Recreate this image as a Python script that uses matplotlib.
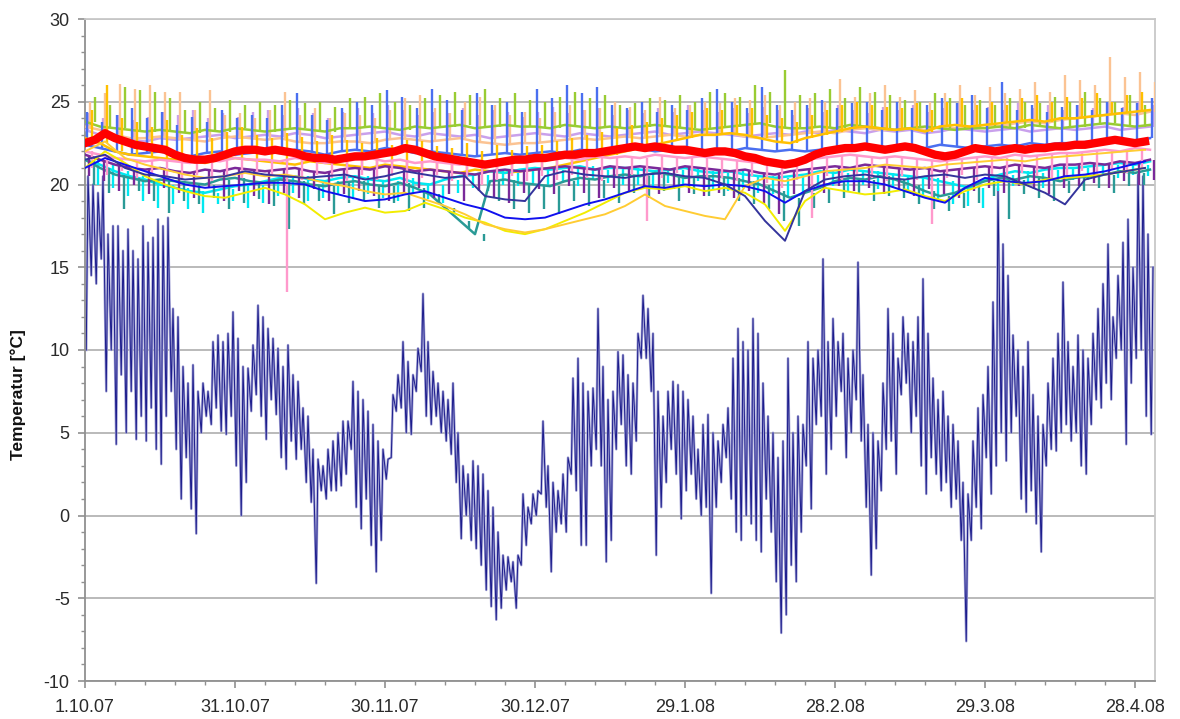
import numpy as np
import matplotlib
matplotlib.use("Agg")
import matplotlib.pyplot as plt
from matplotlib.ticker import MultipleLocator

plt.rcParams['font.family'] = ['Liberation Sans', 'DejaVu Sans']
plt.rcParams['axes.unicode_minus'] = False

# ------------------------------------------------------------------------------
# Data (days counted from 1.10.07)
# ------------------------------------------------------------------------------
tick_days = [0, 30, 60, 90, 120, 150, 180, 210]
tick_labels = ['1.10.07', '31.10.07', '30.11.07', '30.12.07',
               '29.1.08', '28.2.08', '29.3.08', '28.4.08']

# outdoor temperature, daily max / min (one value per day)
out_max = [20.5, 20.0, 19.5, 20.5, 17.0, 17.5, 17.5, 16.0, 17.3, 16.0,
           15.5, 17.5, 16.5, 16.8, 17.9, 17.5, 18.0, 12.5, 12.0, 9.0,
           8.0, 9.1, 7.5, 8.0, 7.5, 10.5, 10.9, 10.5, 11.0, 12.3,
           10.7, 9.0, 8.9, 10.3, 12.7, 12.0, 11.3, 10.7, 10.1, 9.0,
           10.3, 8.5, 8.1, 6.5, 6.0, 4.0, 3.4, 3.0, 4.0, 4.5,
           5.0, 5.7, 5.7, 8.1, 7.5, 7.0, 6.3, 5.5, 4.5, 4.0,
           3.4, 7.3, 8.5, 10.5, 9.3, 8.5, 10.1, 13.4, 10.5, 8.7,
           8.0, 7.5, 7.0, 8.0, 5.0, 3.0, 2.5, 3.3, 3.0, 2.5,
           1.5, 0.5, -1.0, -2.4, -2.5, -2.8, -2.4, 1.3, 0.5, 1.3,
           1.5, 5.7, 3.0, 2.0, 1.5, 2.5, 3.5, 8.3, 9.5, 8.0,
           7.5, 7.7, 12.5, 9.0, 7.0, 7.5, 9.9, 9.7, 8.5, 8.0,
           11.0, 13.3, 12.5, 11.0, 7.5, 6.0, 7.5, 8.1, 7.9, 7.5,
           7.0, 6.0, 4.0, 5.5, 6.1, 5.0, 4.5, 5.5, 6.5, 9.5,
           11.3, 10.5, 10.0, 11.9, 11.0, 8.0, 6.0, 5.0, 3.5, 4.5,
           9.5, 5.0, 6.0, 5.5, 10.5, 9.5, 10.0, 15.5, 10.5, 11.9,
           10.5, 11.0, 9.5, 10.0, 15.3, 8.5, 5.5, 5.0, 4.5, 8.0,
           12.5, 11.0, 9.5, 12.0, 11.0, 10.5, 12.0, 14.3, 11.0, 8.3,
           7.0, 7.5, 6.0, 5.5, 4.5, 2.0, 1.3, 4.5, 6.5, 7.3,
           9.0, 12.9, 19.8, 16.4, 14.5, 10.9, 10.0, 9.0, 10.5, 7.3,
           6.0, 5.5, 8.0, 9.5, 11.0, 14.1, 10.5, 9.0, 10.9, 10.0,
           9.5, 11.0, 12.5, 14.0, 16.4, 12.0, 14.5, 16.5, 17.9, 15.0,
           20.6, 20.5, 17.0, 15.0]
out_min = [10.0, 14.5, 14.0, 15.5, 7.5, 10.0, 4.3, 8.5, 5.0, 7.5,
           4.6, 6.0, 4.5, 6.5, 4.0, 3.1, 6.0, 7.5, 4.0, 1.0,
           3.5, 0.4, -1.1, 5.0, 6.0, 5.5, 6.5, 5.1, 4.9, 6.0,
           3.0, 0.0, 2.0, 6.3, 7.3, 6.0, 4.6, 7.0, 6.1, 3.5,
           2.8, 4.5, 3.4, 4.0, 2.0, 0.8, -4.1, 1.5, 1.0, 1.5,
           1.5, 1.8, 2.5, 4.0, 0.5, -0.8, 1.0, -1.8, -3.4, -1.5,
           2.2, 3.5, 6.3, 6.5, 5.0, 4.9, 7.5, 8.7, 6.0, 5.5,
           6.0, 5.0, 4.5, 3.7, 2.0, -1.4, 0.0, -1.5, -2.0, -3.0,
           -4.5, -5.5, -6.3, -5.6, -4.5, -4.0, -5.6, -3.0, -1.8, -0.5,
           0.0, 1.3, 0.5, -3.4, -1.0, -0.5, -1.0, 2.5, 1.5, -1.8,
           -1.8, 3.0, 4.0, 3.0, -2.8, -1.5, 4.0, 5.5, 3.0, 2.5,
           4.5, 9.5, 9.5, 7.5, -2.4, 0.5, 2.0, 4.0, 2.5, -0.2,
           1.5, 2.5, 1.0, 0.0, 0.5, -4.7, 0.5, 2.0, 3.5, 1.0,
           -1.0, -1.5, 0.0, -0.5, -1.5, -2.2, 1.0, -1.0, -4.0, -7.1,
           -6.0, -3.0, -4.0, -1.0, 3.0, 0.4, 5.5, 6.0, 2.5, 4.0,
           6.0, 7.5, 3.5, 5.0, 7.0, 4.5, 0.5, -3.6, -2.0, 1.5,
           4.0, 4.5, 2.5, 7.3, 8.0, 5.0, 6.0, 3.0, 1.3, 3.5,
           2.5, 1.5, 2.0, 0.5, 1.0, -1.5, -7.6, -1.5, 0.5, -0.8,
           3.5, 1.3, 3.0, 5.0, 3.3, 5.0, 6.0, 1.0, 0.2, 1.5,
           -0.5, -2.2, 3.0, 4.0, 3.9, 5.0, 5.5, 4.5, 5.0, 3.0,
           2.5, 5.5, 7.0, 6.5, 8.0, 7.0, 9.5, 10.0, 4.3, 8.0,
           9.5, 10.0, 6.0, 4.9]

# room sensors with short heating peaks / dips: base level and peak, every 3 days
peach_base = [23.5, 23.3, 23.0, 22.8, 22.8, 22.9, 22.8, 22.7, 22.6, 22.8, 22.9, 22.8,
              22.7, 22.8, 22.6, 22.5, 22.5, 22.6, 22.6, 22.5, 22.7, 22.8, 22.7, 22.6,
              22.7, 22.8, 22.6, 22.5, 22.4, 22.5, 22.5, 22.6, 22.7, 22.8, 22.7, 22.8,
              22.9, 22.8, 22.9, 23.0, 22.9, 23.0, 23.0, 23.1, 22.9, 22.8, 22.9, 23.0,
              23.1, 23.2, 23.1, 23.3, 23.4, 23.3, 23.3, 23.4, 23.3, 23.5, 23.4, 23.5,
              23.6, 23.5, 23.7, 23.8, 23.7, 23.9, 24.0, 24.1, 24.2, 24.3, 24.2, 24.4]
peach_peak = [25.0, 25.5, 26.1, 25.8, 26.0, 25.6, 25.6, 24.5, 25.7, 24.2, 24.3, 24.0,
              24.5, 25.6, 24.2, 24.6, 24.0, 24.3, 24.2, 24.0, 24.5, 25.2, 25.4, 24.6,
              24.3, 25.0, 25.3, 24.8, 24.2, 24.4, 24.0, 24.4, 24.8, 24.5, 24.6, 25.0,
              24.7, 24.5, 25.3, 24.6, 24.8, 25.0, 24.9, 25.2, 25.1, 25.4, 24.8, 25.0,
              25.2, 25.0, 26.4, 25.3, 25.5, 26.0, 25.3, 25.7, 25.0, 25.5, 26.0, 25.4,
              25.9, 25.5, 25.8, 26.2, 25.6, 26.6, 26.3, 26.0, 27.7, 26.5, 26.8, 26.2]

green_base = [23.8, 23.5, 23.4, 23.3, 23.2, 23.3, 23.2, 23.1, 23.3, 23.2, 23.4, 23.3,
              23.2, 23.3, 23.4, 23.3, 23.2, 23.4, 23.4, 23.5, 23.4, 23.3, 23.5, 23.4,
              23.5, 23.6, 23.4, 23.5, 23.6, 23.5, 23.5, 23.4, 23.6, 23.5, 23.4, 23.5,
              23.4, 23.5, 23.6, 23.5, 23.4, 23.3, 23.4, 23.5, 23.6, 23.7, 23.5, 23.4,
              23.4, 23.5, 23.4, 23.6, 23.5, 23.4, 23.3, 23.4, 23.5, 23.4, 23.3, 23.4,
              23.4, 23.5, 23.4, 23.6, 23.5, 23.4, 23.5, 23.6, 23.7, 23.6, 23.5, 23.6]
green_peak = [25.3, 24.8, 25.9, 25.7, 25.6, 25.2, 24.5, 25.0, 24.6, 25.1, 24.8, 25.0,
              24.8, 25.1, 24.9, 25.0, 24.7, 25.2, 25.3, 25.5, 25.0, 24.8, 25.2, 25.4,
              25.6, 25.4, 25.8, 25.2, 25.5, 25.1, 25.0, 25.3, 25.6, 25.2, 25.4, 24.8,
              24.9, 25.2, 25.1, 25.4, 25.0, 25.6, 25.5, 25.3, 26.0, 25.6, 26.9, 25.4,
              25.5, 25.8, 25.2, 25.9, 25.6, 25.4, 25.1, 25.0, 25.5, 25.2, 24.8, 25.1,
              24.8, 25.2, 25.0, 24.9, 25.3, 25.0, 25.6, 25.2, 25.0, 25.4, 24.8, 25.0]

royal_base = [22.4, 22.2, 22.0, 21.8, 21.9, 22.0, 21.8, 21.7, 21.9, 22.0, 21.8, 21.9,
              22.0, 21.9, 22.1, 22.0, 21.8, 22.0, 22.1, 22.0, 22.2, 22.1, 21.9, 22.0,
              21.9, 21.8, 21.7, 21.8, 21.9, 21.8, 21.9, 22.0, 21.9, 22.1, 22.0, 22.1,
              22.1, 22.2, 22.0, 22.1, 22.2, 22.0, 22.1, 22.0, 22.2, 22.1, 22.0, 22.1,
              22.0, 22.1, 22.2, 22.1, 22.2, 22.3, 22.2, 22.3, 22.2, 22.4, 22.3, 22.2,
              22.3, 22.4, 22.3, 22.5, 22.4, 22.5, 22.5, 22.6, 22.5, 22.7, 22.6, 22.8]
royal_peak = [24.4, 23.8, 24.2, 24.6, 24.0, 24.4, 23.6, 24.1, 23.8, 24.5, 24.0, 24.2,
              24.0, 24.8, 25.5, 24.2, 23.9, 24.6, 25.0, 24.8, 25.7, 25.3, 24.6, 25.8,
              25.1, 24.5, 25.5, 24.8, 25.0, 24.4, 25.8, 25.2, 26.0, 25.5, 25.9, 24.8,
              24.6, 25.0, 24.4, 24.8, 24.5, 25.2, 25.8, 25.0, 24.6, 25.9, 24.8, 24.5,
              24.8, 25.1, 24.6, 24.9, 25.0, 24.5, 25.0, 24.6, 24.8, 25.2, 24.9, 25.4,
              24.6, 26.2, 24.5, 24.8, 24.4, 24.7, 24.8, 24.5, 25.0, 24.6, 24.9, 25.2]

gold_base = [22.8, 22.5, 22.0, 21.8, 21.7, 21.6, 21.5, 21.4, 21.3, 21.5, 21.6, 21.5,
             21.4, 21.3, 21.2, 21.4, 21.3, 21.2, 21.1, 21.0, 21.2, 21.1, 21.0, 20.9,
             20.8, 20.7, 20.9, 20.8, 20.7, 20.8, 20.9, 21.0, 21.2, 21.4, 21.6, 21.8,
             22.0, 22.2, 22.4, 22.6, 22.8, 23.0, 23.0, 23.1, 23.0, 22.8, 22.6, 22.5,
             22.8, 23.0, 23.2, 23.4, 23.5, 23.4, 23.3, 23.4, 23.2, 23.5, 23.6, 23.5,
             23.6, 23.7, 23.8, 23.9, 23.8, 24.0, 24.0, 24.1, 24.2, 24.3, 24.4, 24.5]
gold_peak = [24.5, 26.0, 24.0, 23.8, 23.5, 23.9, 23.0, 23.4, 22.8, 23.2, 23.5, 23.0,
             22.8, 23.1, 22.9, 22.6, 23.0, 22.7, 22.5, 22.8, 22.4, 22.7, 22.6, 22.3,
             22.2, 22.5, 22.0, 22.4, 22.1, 22.3, 22.4, 22.6, 22.8, 23.0, 23.2, 23.4,
             23.6, 23.8, 24.0, 24.2, 24.4, 24.6, 24.5, 24.8, 24.6, 24.2, 24.0, 23.8,
             24.2, 24.5, 24.8, 25.0, 24.8, 24.7, 24.6, 24.9, 24.5, 25.0, 25.2, 24.8,
             25.0, 24.8, 25.2, 25.4, 25.0, 25.3, 25.2, 25.5, 25.0, 25.4, 25.6, 25.8]

lilac_base = [23.3, 23.0, 22.8, 22.7, 22.6, 22.8, 22.7, 22.8, 22.9, 23.0, 22.8, 22.9,
              23.0, 22.9, 23.1, 23.0, 22.8, 22.9, 23.0, 23.1, 23.2, 23.0, 22.9, 23.1,
              23.0, 22.9, 23.0, 22.8, 22.9, 23.0, 23.1, 23.0, 22.9, 23.1, 23.0, 22.9,
              23.0, 23.1, 23.2, 23.0, 23.1, 23.2, 23.1, 23.0, 22.9, 23.0, 23.1, 23.0,
              23.2, 23.1, 23.3, 23.2, 23.1, 23.3, 23.2, 23.3, 23.1, 23.2, 23.4, 23.3,
              23.2, 23.3, 23.4, 23.2, 23.3, 23.4, 23.3, 23.4, 23.5, 23.3, 23.4, 23.5]
lilac_peak = [24.3, 24.0, 24.2, 23.9, 24.1, 24.4, 24.2, 24.5, 24.0, 24.3, 24.1, 24.4,
              24.5, 24.2, 24.6, 24.3, 24.0, 24.4, 24.6, 24.3, 24.8, 24.5, 24.2, 24.4,
              24.3, 24.6, 24.2, 24.5, 24.4, 24.1, 24.4, 24.7, 24.3, 24.5, 24.6, 24.2,
              24.5, 24.3, 24.6, 24.4, 24.8, 24.5, 24.4, 24.6, 24.3, 24.7, 24.5, 24.2,
              24.6, 24.4, 24.8, 24.5, 24.3, 24.7, 24.5, 24.8, 24.4, 24.6, 24.9, 24.5,
              24.7, 24.5, 24.9, 24.6, 24.8, 24.5, 24.8, 24.6, 24.9, 24.7, 25.0, 24.8]

cyan_base = [21.5, 21.2, 20.8, 20.5, 20.3, 20.0, 19.8, 19.6, 19.5, 19.7, 19.9, 20.0,
             20.2, 20.4, 20.5, 20.3, 20.2, 20.4, 20.5, 20.3, 20.2, 20.4, 20.1, 20.0,
             20.3, 20.5, 20.6, 20.8, 20.7, 20.9, 21.0, 20.9, 21.0, 21.1, 20.9, 21.0,
             21.0, 20.9, 20.8, 20.9, 21.0, 20.8, 20.7, 20.8, 20.6, 20.5, 20.4, 20.5,
             20.6, 20.8, 20.7, 20.9, 20.8, 20.7, 20.6, 20.5, 20.4, 20.2, 20.0, 19.8,
             20.3, 20.6, 20.8, 20.7, 20.9, 21.0, 21.0, 21.1, 21.2, 21.3, 21.2, 21.4]
cyan_dip = [20.0, 19.8, 19.3, 19.0, 18.6, 18.8, 18.5, 18.3, 18.8, 19.0, 18.6, 18.9,
            19.3, 19.5, 19.0, 19.2, 19.4, 19.1, 19.4, 19.2, 19.0, 19.5, 19.1, 18.9,
            19.5, 19.8, 19.6, 20.0, 19.9, 20.1, 20.0, 20.2, 19.9, 20.3, 20.1, 20.0,
            20.0, 19.8, 20.1, 19.9, 20.2, 19.7, 19.6, 19.8, 19.5, 19.4, 19.2, 19.5,
            19.8, 19.9, 19.6, 20.0, 19.7, 19.8, 19.5, 19.3, 19.0, 18.8, 18.7, 18.6,
            19.6, 19.9, 20.0, 19.8, 20.2, 20.3, 20.3, 20.5, 20.4, 20.6, 20.5, 20.7]

teal_base = [21.5, 21.0, 20.6, 20.4, 20.2, 20.3, 20.2, 20.1, 20.0, 20.3, 20.4, 20.2,
             20.1, 20.3, 20.2, 20.0, 19.9, 20.1, 20.2, 20.0, 19.9, 20.1, 19.8, 19.4,
             18.6, 17.8, 17.0, 20.2, 20.3, 20.1, 20.0, 19.9, 20.2, 20.4, 20.3, 20.5,
             20.6, 20.5, 20.7, 20.6, 20.4, 20.5, 20.5, 20.4, 20.2, 20.0, 19.6, 19.2,
             19.5, 19.8, 20.2, 20.4, 20.3, 20.5, 20.3, 20.0, 19.6, 19.3, 19.5, 19.9,
             20.2, 20.4, 20.3, 20.5, 20.4, 20.2, 20.4, 20.5, 20.6, 20.8, 20.7, 20.9]
teal_dip = [20.0, 19.5, 18.5, 19.6, 19.0, 18.3, 19.0, 18.8, 19.2, 18.5, 18.9, 19.1,
            18.7, 17.3, 18.8, 19.0, 18.2, 18.9, 19.0, 18.6, 18.9, 18.4, 18.6, 18.8,
            18.2, 17.4, 16.6, 19.0, 18.5, 18.3, 18.5, 18.2, 19.0, 18.7, 19.2, 18.9,
            19.5, 19.2, 19.6, 19.0, 19.4, 19.3, 19.3, 19.0, 18.8, 18.5, 17.8, 17.5,
            18.6, 18.9, 19.2, 19.4, 19.0, 19.3, 19.2, 18.8, 18.5, 18.4, 18.6, 18.9,
            19.3, 17.9, 19.4, 19.2, 19.0, 19.5, 19.6, 19.8, 19.5, 19.9, 20.0, 19.7]

purple_base = [21.8, 21.5, 21.2, 21.0, 20.9, 21.0, 20.8, 20.7, 20.9, 20.8, 21.0, 20.9,
               20.8, 20.9, 21.0, 20.8, 20.7, 20.9, 21.0, 20.9, 21.1, 21.0, 20.8, 20.9,
               20.8, 20.7, 20.6, 20.8, 20.9, 20.8, 20.9, 21.0, 21.1, 21.0, 20.9, 21.1,
               21.0, 21.1, 21.0, 20.9, 21.1, 21.0, 20.9, 20.8, 20.9, 20.7, 20.6, 20.8,
               20.9, 21.0, 21.1, 21.0, 21.2, 21.1, 21.0, 20.9, 21.0, 20.8, 20.9, 21.0,
               21.1, 21.0, 21.2, 21.1, 21.0, 21.2, 21.2, 21.3, 21.2, 21.4, 21.3, 21.5]
purple_dip = [20.5, 20.2, 19.6, 20.0, 19.4, 19.8, 19.5, 19.2, 19.8, 19.0, 19.6, 19.3,
              18.8, 19.5, 19.2, 19.7, 19.0, 19.4, 19.6, 19.3, 19.0, 19.5, 19.8, 19.2,
              19.4, 19.0, 19.6, 19.2, 18.9, 19.5, 19.7, 19.4, 19.9, 19.5, 19.2, 19.8,
              19.6, 19.9, 19.4, 19.7, 19.5, 19.3, 19.5, 19.2, 19.6, 18.9, 18.2, 19.4,
              19.7, 19.5, 19.9, 19.6, 19.8, 19.4, 19.6, 19.3, 19.7, 19.4, 19.2, 19.6,
              19.8, 19.5, 19.9, 19.7, 19.4, 19.8, 19.9, 20.1, 19.8, 20.2, 20.0, 20.3]

pink_base = [22.0, 21.8, 21.6, 21.5, 21.4, 21.5, 21.4, 21.3, 21.5, 21.4, 21.6, 21.5,
             21.5, 21.4, 21.6, 21.5, 21.3, 21.4, 21.5, 21.6, 21.4, 21.5, 21.3, 21.4,
             21.3, 21.2, 21.3, 21.4, 21.3, 21.5, 21.4, 21.5, 21.6, 21.5, 21.7, 21.6,
             21.7, 21.6, 21.8, 21.7, 21.6, 21.7, 21.6, 21.5, 21.4, 21.3, 21.2, 21.4,
             21.5, 21.6, 21.7, 21.8, 21.7, 21.6, 21.7, 21.6, 21.5, 21.4, 21.5, 21.6,
             21.7, 21.6, 21.8, 21.7, 21.8, 21.9, 21.9, 22.0, 22.1, 22.0, 22.2, 22.1]
pink_dip = [21.0, 20.6, 20.8, 20.4, 20.7, 20.5, 20.3, 20.6, 20.2, 20.5, 20.4, 20.7,
            20.5, 13.5, 20.3, 20.6, 20.4, 20.2, 20.6, 20.3, 20.5, 20.1, 20.4, 20.6,
            20.2, 20.4, 20.0, 20.3, 20.5, 20.2, 20.5, 20.3, 20.6, 20.4, 20.2, 20.5,
            20.6, 17.8, 20.4, 20.7, 20.5, 20.3, 20.4, 20.2, 20.5, 20.1, 19.8, 20.3,
            18.0, 20.5, 20.3, 20.6, 20.4, 20.2, 20.5, 20.3, 17.6, 20.4, 20.6, 20.3,
            20.6, 20.4, 20.7, 20.5, 20.3, 20.6, 20.8, 20.6, 20.9, 20.7, 21.0, 20.8]

# smoother low-lying room sensors, every 4 days
blue_low = [21.0, 21.6, 21.2, 20.8, 20.4, 20.0, 19.8, 19.9, 20.0, 20.1, 20.1, 20.0,
            19.6, 19.3, 19.0, 19.1, 19.4, 19.6, 19.2, 18.8, 18.5, 18.0, 17.9, 18.0,
            18.4, 18.8, 19.1, 19.5, 19.9, 19.8, 20.0, 19.9, 20.0, 19.9, 19.6, 18.9,
            19.6, 20.0, 20.2, 20.2, 20.0, 19.6, 19.2, 18.9, 19.8, 20.4, 20.2, 20.1,
            20.2, 20.5, 20.6, 20.8, 21.1, 21.4]
navy_low = [21.5, 21.8, 21.0, 20.6, 20.5, 20.3, 20.4, 20.5, 20.8, 20.6, 20.5, 20.4,
            20.5, 20.6, 20.3, 20.5, 20.8, 20.6, 20.4, 20.5, 19.3, 19.1, 19.0, 20.5,
            20.8, 20.6, 20.5, 20.4, 20.6, 20.7, 20.5, 20.4, 20.0, 19.3, 17.8, 16.6,
            19.6, 20.3, 20.5, 20.6, 20.4, 20.3, 20.5, 20.6, 20.4, 20.6, 20.5, 20.0,
            19.5, 18.8, 20.3, 20.6, 20.8, 21.0]
yellow_low = [21.0, 22.0, 21.3, 20.5, 20.0, 19.6, 19.3, 19.2, 19.5, 19.8, 19.4, 18.8,
              17.9, 18.3, 18.6, 18.3, 18.4, 18.9, 18.5, 18.0, 17.7, 17.2, 17.0, 17.3,
              17.8, 18.3, 18.9, 19.5, 19.8, 19.7, 19.9, 19.6, 19.8, 19.5, 18.8, 17.2,
              19.0, 19.8, 19.6, 19.4, 19.5, 19.7, 19.3, 19.0, 19.6, 20.0, 20.2, 20.0,
              20.3, 20.4, 20.5, 20.6, 20.8, 21.0]
goldlow = [22.0, 22.6, 21.6, 21.2, 20.9, 20.6, 20.4, 20.5, 20.7, 20.5, 20.6, 20.4,
           20.1, 19.9, 19.6, 19.4, 19.5, 19.1, 18.7, 18.2, 17.6, 17.3, 17.1, 17.3,
           17.6, 17.9, 18.2, 18.7, 19.4, 18.7, 18.4, 18.1, 17.9, 19.9, 20.4, 20.2,
           20.5, 20.8, 20.9, 21.0, 21.2, 21.1, 21.0, 21.2, 21.3, 21.4, 21.5, 21.4,
           21.6, 21.7, 21.8, 21.9, 22.0, 22.1]

# mean of all rooms, every 2 days
mean_rooms = [22.5, 22.7, 23.1, 22.8, 22.6, 22.4, 22.3, 22.2, 22.1, 21.8, 21.6, 21.5,
              21.5, 21.6, 21.8, 22.0, 22.1, 22.1, 22.0, 22.1, 22.0, 21.9, 21.7, 21.6,
              21.6, 21.5, 21.6, 21.7, 21.7, 21.8, 21.9, 22.0, 22.2, 22.1, 21.9, 21.7,
              21.6, 21.5, 21.4, 21.3, 21.2, 21.3, 21.4, 21.5, 21.5, 21.6, 21.6, 21.7,
              21.8, 21.8, 21.9, 21.9, 22.0, 22.1, 22.2, 22.3, 22.2, 22.3, 22.2, 22.1,
              22.1, 22.0, 21.9, 22.0, 22.0, 21.9, 21.7, 21.6, 21.4, 21.3, 21.2, 21.3,
              21.5, 21.8, 22.0, 22.1, 22.2, 22.2, 22.3, 22.2, 22.1, 22.2, 22.3, 22.2,
              22.0, 21.8, 21.7, 21.8, 22.0, 22.2, 22.1, 22.0, 22.1, 22.2, 22.1, 22.2,
              22.2, 22.3, 22.3, 22.4, 22.4, 22.5, 22.6, 22.7, 22.6, 22.5, 22.6]

# ------------------------------------------------------------------------------
# Figure
# ------------------------------------------------------------------------------
fig = plt.figure(figsize=(11.8, 7.19), dpi=100)
ax = fig.add_axes([85 / 1180, 38 / 719, 1070 / 1180, 662 / 719])

# outdoor: zigzag between the morning minimum and afternoon maximum
n = len(out_max)
t_out = np.empty(2 * n)
v_out = np.empty(2 * n)
t_out[0::2] = np.arange(n) + 0.25
t_out[1::2] = np.arange(n) + 0.6
v_out[0::2] = out_min
v_out[1::2] = out_max
ax.plot(t_out, v_out, color='#a4a4d6', lw=1.8, zorder=2)
ax.plot(t_out, v_out, color='#1c1c8c', lw=0.7, zorder=2)

# spiky room sensors: base line + short peaks
spiky = [
    (lilac_base, lilac_peak, '#c9a0ec', 0.6),
    (peach_base, peach_peak, '#fbc393', 1.0),
    (green_base, green_peak, '#99cc33', 2.0),
    (royal_base, royal_peak, '#4a6ff0', 0.3),
    (gold_base, gold_peak, '#ffc000', 1.4),
    (cyan_base, cyan_dip, '#00e8f0', 2.5),
    (teal_base, teal_dip, '#2a9a96', 1.7),
    (purple_base, purple_dip, '#7a2a9a', 0.8),
    (pink_base, pink_dip, '#ff99cc', 1.4),
]
for base, peak, color, off in spiky:
    t = np.arange(len(base)) * 3.0
    ax.plot(t, base, color=color, lw=1.8, zorder=3)
    ax.vlines(t + off, base, peak, color=color, lw=1.7, zorder=3)

smooth = [
    (yellow_low, '#f2ec00'),
    (goldlow, '#ffcc33'),
    (blue_low, '#1010ee'),
    (navy_low, '#34349c'),
]
for vals, color in smooth:
    t = np.arange(len(vals)) * 4.0
    ax.plot(t, vals, color=color, lw=1.4, zorder=4)

t_mean = np.arange(len(mean_rooms)) * 2.0
ax.plot(t_mean, mean_rooms, color='#ff0000', lw=6, zorder=5)

# axes styling
ax.set_xlim(0, 214)
ax.set_ylim(-10, 30)
ax.set_xticks(tick_days, tick_labels)
ax.xaxis.set_minor_locator(MultipleLocator(6))
ax.yaxis.set_major_locator(MultipleLocator(5))
ax.yaxis.set_minor_locator(MultipleLocator(1))
ax.grid(axis='y', color='#b4b4b4', lw=1.3, zorder=0)
ax.set_axisbelow(True)

for side in ['top', 'right']:
    ax.spines[side].set_color('#c8c8c8')
    ax.spines[side].set_linewidth(1.3)
for side in ['left', 'bottom']:
    ax.spines[side].set_color('#909090')
    ax.spines[side].set_linewidth(1.3)

ax.tick_params(which='major', length=5, width=1.2, color='#909090',
               labelsize=13, labelcolor='#2a2a2a', pad=6)
ax.tick_params(which='minor', length=3, width=1.0, color='#909090')
ax.tick_params(axis='x', which='major', pad=8)

fig.text(18 / 1180, 1 - 395 / 719, 'Temperatur [°C]', rotation=90,
         ha='center', va='center', fontsize=12.5, fontweight='bold', color='#111111')

fig.savefig('out.png', dpi=100)
